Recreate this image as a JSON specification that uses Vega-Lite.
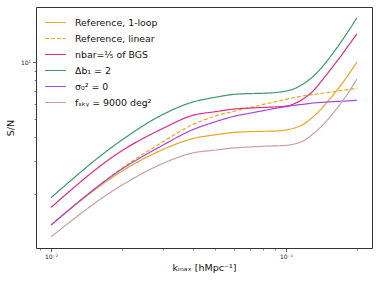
{
  "$schema": "https://vega.github.io/schema/vega-lite/v6.json",
  "width": 336,
  "height": 241,
  "autosize": {"type": "none"},
  "padding": {"left": 36, "top": 7, "right": 7, "bottom": 37},
  "background": "white",
  "config": {
    "font": "DejaVu Sans",
    "view": {"stroke": "#333333", "strokeWidth": 1}
  },
  "datasets": {
    "curves": [
      {"k": 0.01, "s": "Reference, 1-loop", "v": 1.364},
      {"k": 0.02, "s": "Reference, 1-loop", "v": 2.63},
      {"k": 0.03, "s": "Reference, 1-loop", "v": 3.44},
      {"k": 0.04, "s": "Reference, 1-loop", "v": 3.92},
      {"k": 0.05, "s": "Reference, 1-loop", "v": 4.11},
      {"k": 0.06, "s": "Reference, 1-loop", "v": 4.23},
      {"k": 0.07, "s": "Reference, 1-loop", "v": 4.27},
      {"k": 0.08, "s": "Reference, 1-loop", "v": 4.29},
      {"k": 0.09, "s": "Reference, 1-loop", "v": 4.30},
      {"k": 0.10, "s": "Reference, 1-loop", "v": 4.36},
      {"k": 0.11, "s": "Reference, 1-loop", "v": 4.49},
      {"k": 0.12, "s": "Reference, 1-loop", "v": 4.72},
      {"k": 0.13, "s": "Reference, 1-loop", "v": 5.11},
      {"k": 0.14, "s": "Reference, 1-loop", "v": 5.58},
      {"k": 0.15, "s": "Reference, 1-loop", "v": 6.16},
      {"k": 0.16, "s": "Reference, 1-loop", "v": 6.78},
      {"k": 0.17, "s": "Reference, 1-loop", "v": 7.46},
      {"k": 0.18, "s": "Reference, 1-loop", "v": 8.22},
      {"k": 0.19, "s": "Reference, 1-loop", "v": 9.07},
      {"k": 0.20, "s": "Reference, 1-loop", "v": 10.0},

      {"k": 0.01, "s": "Reference, linear", "v": 1.364},
      {"k": 0.02, "s": "Reference, linear", "v": 2.73},
      {"k": 0.03, "s": "Reference, linear", "v": 3.78},
      {"k": 0.04, "s": "Reference, linear", "v": 4.65},
      {"k": 0.05, "s": "Reference, linear", "v": 5.17},
      {"k": 0.06, "s": "Reference, linear", "v": 5.48},
      {"k": 0.07, "s": "Reference, linear", "v": 5.72},
      {"k": 0.08, "s": "Reference, linear", "v": 5.96},
      {"k": 0.09, "s": "Reference, linear", "v": 6.15},
      {"k": 0.10, "s": "Reference, linear", "v": 6.34},
      {"k": 0.11, "s": "Reference, linear", "v": 6.50},
      {"k": 0.12, "s": "Reference, linear", "v": 6.63},
      {"k": 0.13, "s": "Reference, linear", "v": 6.72},
      {"k": 0.14, "s": "Reference, linear", "v": 6.81},
      {"k": 0.15, "s": "Reference, linear", "v": 6.89},
      {"k": 0.16, "s": "Reference, linear", "v": 6.97},
      {"k": 0.17, "s": "Reference, linear", "v": 7.05},
      {"k": 0.18, "s": "Reference, linear", "v": 7.12},
      {"k": 0.19, "s": "Reference, linear", "v": 7.19},
      {"k": 0.20, "s": "Reference, linear", "v": 7.25},

      {"k": 0.01, "s": "nbar=⅕ of BGS", "v": 1.69},
      {"k": 0.02, "s": "nbar=⅕ of BGS", "v": 3.38},
      {"k": 0.03, "s": "nbar=⅕ of BGS", "v": 4.45},
      {"k": 0.04, "s": "nbar=⅕ of BGS", "v": 5.21},
      {"k": 0.05, "s": "nbar=⅕ of BGS", "v": 5.45},
      {"k": 0.06, "s": "nbar=⅕ of BGS", "v": 5.63},
      {"k": 0.07, "s": "nbar=⅕ of BGS", "v": 5.70},
      {"k": 0.08, "s": "nbar=⅕ of BGS", "v": 5.74},
      {"k": 0.09, "s": "nbar=⅕ of BGS", "v": 5.78},
      {"k": 0.10, "s": "nbar=⅕ of BGS", "v": 5.84},
      {"k": 0.11, "s": "nbar=⅕ of BGS", "v": 6.06},
      {"k": 0.12, "s": "nbar=⅕ of BGS", "v": 6.45},
      {"k": 0.13, "s": "nbar=⅕ of BGS", "v": 7.0},
      {"k": 0.14, "s": "nbar=⅕ of BGS", "v": 7.8},
      {"k": 0.15, "s": "nbar=⅕ of BGS", "v": 8.7},
      {"k": 0.16, "s": "nbar=⅕ of BGS", "v": 9.65},
      {"k": 0.17, "s": "nbar=⅕ of BGS", "v": 10.65},
      {"k": 0.18, "s": "nbar=⅕ of BGS", "v": 11.75},
      {"k": 0.19, "s": "nbar=⅕ of BGS", "v": 12.9},
      {"k": 0.20, "s": "nbar=⅕ of BGS", "v": 14.1},

      {"k": 0.01, "s": "Δb₁ = 2", "v": 1.905},
      {"k": 0.02, "s": "Δb₁ = 2", "v": 3.855},
      {"k": 0.03, "s": "Δb₁ = 2", "v": 5.28},
      {"k": 0.04, "s": "Δb₁ = 2", "v": 6.13},
      {"k": 0.05, "s": "Δb₁ = 2", "v": 6.50},
      {"k": 0.06, "s": "Δb₁ = 2", "v": 6.74},
      {"k": 0.07, "s": "Δb₁ = 2", "v": 6.80},
      {"k": 0.08, "s": "Δb₁ = 2", "v": 6.83},
      {"k": 0.09, "s": "Δb₁ = 2", "v": 6.89},
      {"k": 0.10, "s": "Δb₁ = 2", "v": 7.02},
      {"k": 0.11, "s": "Δb₁ = 2", "v": 7.28},
      {"k": 0.12, "s": "Δb₁ = 2", "v": 7.74},
      {"k": 0.13, "s": "Δb₁ = 2", "v": 8.38},
      {"k": 0.14, "s": "Δb₁ = 2", "v": 9.2},
      {"k": 0.15, "s": "Δb₁ = 2", "v": 10.2},
      {"k": 0.16, "s": "Δb₁ = 2", "v": 11.35},
      {"k": 0.17, "s": "Δb₁ = 2", "v": 12.6},
      {"k": 0.18, "s": "Δb₁ = 2", "v": 14.0},
      {"k": 0.19, "s": "Δb₁ = 2", "v": 15.5},
      {"k": 0.20, "s": "Δb₁ = 2", "v": 17.2},

      {"k": 0.01, "s": "σ₀² = 0", "v": 1.364},
      {"k": 0.02, "s": "σ₀² = 0", "v": 2.70},
      {"k": 0.03, "s": "σ₀² = 0", "v": 3.63},
      {"k": 0.04, "s": "σ₀² = 0", "v": 4.37},
      {"k": 0.05, "s": "σ₀² = 0", "v": 4.82},
      {"k": 0.06, "s": "σ₀² = 0", "v": 5.15},
      {"k": 0.07, "s": "σ₀² = 0", "v": 5.35},
      {"k": 0.08, "s": "σ₀² = 0", "v": 5.52},
      {"k": 0.09, "s": "σ₀² = 0", "v": 5.68},
      {"k": 0.10, "s": "σ₀² = 0", "v": 5.80},
      {"k": 0.11, "s": "σ₀² = 0", "v": 5.91},
      {"k": 0.12, "s": "σ₀² = 0", "v": 5.98},
      {"k": 0.13, "s": "σ₀² = 0", "v": 6.06},
      {"k": 0.14, "s": "σ₀² = 0", "v": 6.10},
      {"k": 0.15, "s": "σ₀² = 0", "v": 6.14},
      {"k": 0.16, "s": "σ₀² = 0", "v": 6.17},
      {"k": 0.17, "s": "σ₀² = 0", "v": 6.19},
      {"k": 0.18, "s": "σ₀² = 0", "v": 6.21},
      {"k": 0.19, "s": "σ₀² = 0", "v": 6.24},
      {"k": 0.20, "s": "σ₀² = 0", "v": 6.26},

      {"k": 0.01, "s": "fₛₖᵧ = 9000 deg²", "v": 1.18},
      {"k": 0.02, "s": "fₛₖᵧ = 9000 deg²", "v": 2.22},
      {"k": 0.03, "s": "fₛₖᵧ = 9000 deg²", "v": 2.90},
      {"k": 0.04, "s": "fₛₖᵧ = 9000 deg²", "v": 3.29},
      {"k": 0.05, "s": "fₛₖᵧ = 9000 deg²", "v": 3.41},
      {"k": 0.06, "s": "fₛₖᵧ = 9000 deg²", "v": 3.50},
      {"k": 0.07, "s": "fₛₖᵧ = 9000 deg²", "v": 3.54},
      {"k": 0.08, "s": "fₛₖᵧ = 9000 deg²", "v": 3.57},
      {"k": 0.09, "s": "fₛₖᵧ = 9000 deg²", "v": 3.59},
      {"k": 0.10, "s": "fₛₖᵧ = 9000 deg²", "v": 3.61},
      {"k": 0.11, "s": "fₛₖᵧ = 9000 deg²", "v": 3.69},
      {"k": 0.12, "s": "fₛₖᵧ = 9000 deg²", "v": 3.85},
      {"k": 0.13, "s": "fₛₖᵧ = 9000 deg²", "v": 4.15},
      {"k": 0.14, "s": "fₛₖᵧ = 9000 deg²", "v": 4.50},
      {"k": 0.15, "s": "fₛₖᵧ = 9000 deg²", "v": 4.93},
      {"k": 0.16, "s": "fₛₖᵧ = 9000 deg²", "v": 5.43},
      {"k": 0.17, "s": "fₛₖᵧ = 9000 deg²", "v": 5.98},
      {"k": 0.18, "s": "fₛₖᵧ = 9000 deg²", "v": 6.60},
      {"k": 0.19, "s": "fₛₖᵧ = 9000 deg²", "v": 7.32},
      {"k": 0.20, "s": "fₛₖᵧ = 9000 deg²", "v": 8.12}
    ]
  },
  "data": {"name": "curves"},
  "layer": [
    {
      "mark": {"type": "line", "strokeWidth": 1.2, "clip": true, "interpolate": "monotone"},
      "encoding": {
        "x": {
          "field": "k", "type": "quantitative",
          "scale": {"type": "log", "domain": [0.00863, 0.232], "nice": false},
          "axis": {
            "orient": "bottom",
            "values": [0.01, 0.1],
            "labelExpr": "datum.value < 0.05 ? '10⁻²' : '10⁻¹'",
            "domain": false, "grid": false,
            "tickSize": 3.5, "tickColor": "#333333", "tickWidth": 0.8,
            "labelFontSize": 6, "labelColor": "#222222", "labelPadding": 2,
            "title": "kₘₐₓ [hMpc⁻¹]", "titleFontSize": 9.5, "titleFontWeight": "normal",
            "titleColor": "#111111", "titlePadding": 3
          }
        },
        "y": {
          "field": "v", "type": "quantitative",
          "scale": {"type": "log", "domain": [1.03, 19.6], "nice": false},
          "axis": {
            "orient": "left",
            "values": [10],
            "labelExpr": "'10¹'",
            "domain": false, "grid": false,
            "tickSize": 3.5, "tickColor": "#333333", "tickWidth": 0.8,
            "labelFontSize": 6, "labelColor": "#222222", "labelPadding": 2,
            "title": "S/N", "titleFontSize": 9.5, "titleFontWeight": "normal",
            "titleColor": "#111111", "titlePadding": 5
          }
        },
        "color": {
          "field": "s", "type": "nominal",
          "scale": {
            "domain": ["Reference, 1-loop", "Reference, linear", "nbar=⅕ of BGS", "Δb₁ = 2", "σ₀² = 0", "fₛₖᵧ = 9000 deg²"],
            "range": ["#e8a723", "#e8a723", "#de2a87", "#3a9a68", "#a845e3", "#c9a0a0"]
          },
          "legend": {
            "orient": "none", "legendX": 8, "legendY": 4,
            "title": null, "padding": 0,
            "symbolType": "stroke", "symbolSize": 441, "symbolStrokeWidth": 1.2,
            "labelFontSize": 9.4, "labelColor": "#111111", "labelOffset": 8,
            "rowPadding": -5.8, "labelLimit": 200
          }
        },
        "strokeDash": {
          "field": "s", "type": "nominal",
          "scale": {
            "domain": ["Reference, 1-loop", "Reference, linear", "nbar=⅕ of BGS", "Δb₁ = 2", "σ₀² = 0", "fₛₖᵧ = 9000 deg²"],
            "range": [[1, 0], [4, 2], [1, 0], [1, 0], [1, 0], [1, 0]]
          },
          "legend": {
            "orient": "none", "legendX": 8, "legendY": 4,
            "title": null, "padding": 0,
            "symbolType": "stroke", "symbolSize": 441, "symbolStrokeWidth": 1.2,
            "labelFontSize": 9.4, "labelColor": "#111111", "labelOffset": 8,
            "rowPadding": -5.8, "labelLimit": 200
          }
        }
      }
    },
    {
      "mark": {"type": "point", "opacity": 0},
      "encoding": {
        "x": {
          "field": "k", "type": "quantitative",
          "axis": {
            "orient": "bottom",
            "values": [0.009, 0.02, 0.03, 0.04, 0.05, 0.06, 0.07, 0.08, 0.09, 0.2],
            "labels": false, "domain": false, "grid": false,
            "tickSize": 2, "tickColor": "#333333", "tickWidth": 0.6,
            "title": null
          }
        },
        "y": {
          "field": "v", "type": "quantitative",
          "axis": {
            "orient": "left",
            "values": [2, 3, 4, 5, 6, 7, 8, 9],
            "labels": false, "domain": false, "grid": false,
            "tickSize": 2, "tickColor": "#333333", "tickWidth": 0.6,
            "title": null
          }
        }
      }
    }
  ],
  "resolve": {"axis": {"x": "independent", "y": "independent"}}
}
